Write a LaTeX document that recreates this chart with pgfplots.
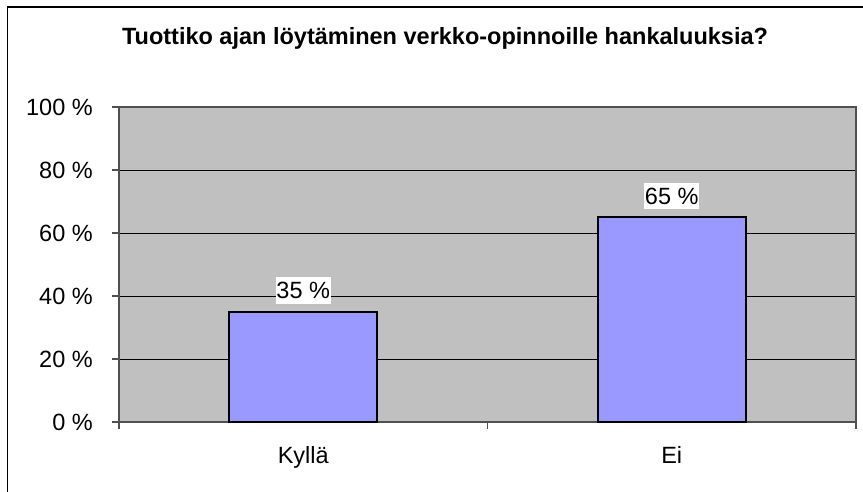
\documentclass[border=0pt]{standalone}
\usepackage{pgfplots}
\pgfplotsset{compat=1.18}
\usepackage{fontspec}
\setmainfont{Liberation Sans}
\definecolor{plotbg}{HTML}{C0C0C0}
\definecolor{barfill}{HTML}{9999FF}
\definecolor{axisgray}{HTML}{505050}
\begin{document}
\begin{tikzpicture}
\useasboundingbox (0,0) rectangle (863pt,492pt);
\draw[line width=1.5pt,black] (7.5pt,0) -- (7.5pt,485pt) -- (863pt,485pt);
\node[font=\fontsize{23.5}{26}\selectfont\bfseries] at (445pt,454pt) {Tuottiko ajan löytäminen verkko-opinnoille hankaluuksia?};
\begin{axis}[
  at={(119pt,70pt)}, anchor=south west,
  scale only axis, width=737pt, height=315pt,
  xmin=-0.5, xmax=1.5, ymin=0, ymax=100,
  axis background/.style={fill=plotbg},
  axis line style={draw=axisgray, line width=1.2pt},
  xtick pos=bottom, ytick pos=left,
  xtick={-0.5,0.5,1.5}, xticklabels={},
  extra x ticks={0,1}, extra x tick labels={Kyllä,Ei},
  extra x tick style={major tick length=0pt, grid=none,
    tick label style={anchor=base, yshift=-42pt}},
  ytick={0,20,40,60,80,100},
  yticklabels={0 \%,20 \%,40 \%,60 \%,80 \%,100 \%},
  yticklabel style={anchor=east, inner sep=0pt, xshift=-19pt},
  tick label style={font=\fontsize{23.5}{26}\selectfont},
  tick align=outside, major tick length=7pt,
  tick style={draw=axisgray, line width=1.2pt},
  ymajorgrids, major grid style={draw=black, line width=0.8pt},
  xmajorgrids=false,
  ybar, bar width=148pt,
  /pgf/number format/assume math mode=true,
  nodes near coords={\pgfmathprintnumber{\pgfplotspointmeta}~\%},
  every node near coord/.append style={anchor=south, yshift=7pt, fill=white,
    inner xsep=0.5pt, inner ysep=5pt, font=\fontsize{23.5}{26}\selectfont, text=black},
  clip=false,
]
\addplot[fill=barfill, draw=black, line width=1.6pt] coordinates {(0,35) (1,65)};
\end{axis}
\end{tikzpicture}
\end{document}
